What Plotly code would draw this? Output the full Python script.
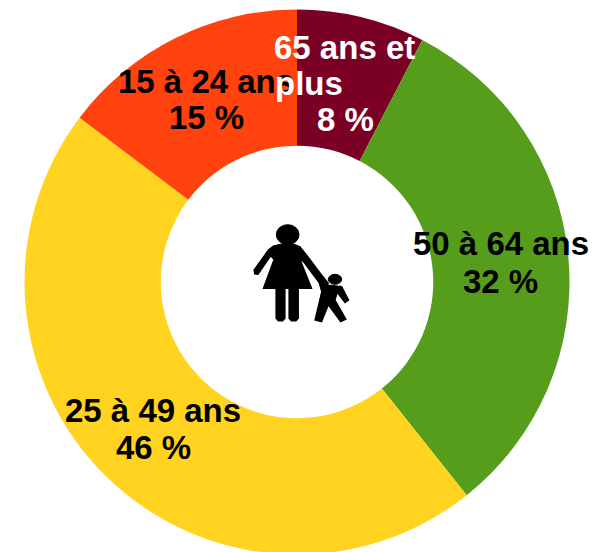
import plotly.graph_objects as go

labels = ["65 ans et plus", "50 à 64 ans", "25 à 49 ans", "15 à 24 ans"]
values = [7.6, 31.7, 46.0, 14.7]
colors = ["#7b0025", "#579d1c", "#ffd320", "#ff420e"]

W, H = 592, 556
OFF = 0


def px(x):
    return (x - OFF) / W


def py(y):
    return 1 - (y - OFF) / H


cx, cy, r = 297, 282, 272.5

fig = go.Figure(go.Pie(
    labels=labels, values=values, hole=0.5, sort=False, direction="clockwise", rotation=0,
    marker=dict(colors=colors, line=dict(width=0)),
    textinfo="none", hoverinfo="label+percent", showlegend=False,
    domain=dict(x=[px(cx - r), px(cx + r)], y=[py(cy + r), py(cy - r)]),
))

# (text, centre x, centre y, colour), drawn in this order
text_lines = [
    ("50 à 64 ans", 500.5, 244, "#000000"),
    ("32 %", 500.5, 281, "#000000"),
    ("25 à 49 ans", 153.5, 410, "#000000"),
    ("46 %", 153.5, 447, "#000000"),
    ("15 à 24 ans", 206, 82, "#000000"),
    ("15 %", 206.5, 117, "#000000"),
    ("65 ans et", 344.5, 47, "#ffffff"),
    ("plus", 309, 84, "#ffffff"),
    ("8 %", 345, 119, "#ffffff"),
]
for t, x, y, c in text_lines:
    fig.add_annotation(text=t, x=px(x), y=py(y), xref="paper", yref="paper",
                       xanchor="center", yanchor="middle", showarrow=False,
                       font=dict(family="Liberation Sans", size=33, color=c, weight="bold"))


# Pictogram, outlined in crop coordinates (3x, origin 250,220)
def icon_path(points):
    pts = [(px(250 + a / 3), py(220 + b / 3)) for a, b in points]
    return "M " + " L ".join(f"{a:.5f},{b:.5f}" for a, b in pts) + " Z"


woman = [(95, 72), (130, 72), (150, 80), (180, 118), (215, 165), (235, 190), (225, 202), (205, 185),
         (160, 125), (150, 118), (185, 205), (145, 205), (145, 295), (138, 303), (124, 303), (117, 295),
         (117, 205), (105, 205), (105, 295), (98, 303), (85, 303), (78, 295), (78, 205), (40, 205),
         (72, 118), (62, 108), (24, 163), (14, 162), (12, 150), (55, 90), (70, 78)]
child = [(205, 180), (235, 195), (275, 200), (296, 240), (285, 248), (262, 218), (255, 240), (288, 298),
         (272, 305), (235, 255), (215, 305), (195, 300), (215, 215)]
for pts in (woman, child):
    fig.add_shape(type="path", path=icon_path(pts), xref="paper", yref="paper",
                  fillcolor="#000000", line=dict(width=1.2, color="#000000"))
for hx, hy, rx, ry in ((113, 44, 34, 30), (255, 178, 20, 15)):
    fig.add_shape(type="circle", xref="paper", yref="paper",
                  x0=px(250 + (hx - rx) / 3), x1=px(250 + (hx + rx) / 3),
                  y0=py(220 + (hy + ry) / 3), y1=py(220 + (hy - ry) / 3),
                  fillcolor="#000000", line=dict(width=1, color="#000000"))

fig.update_layout(width=W, height=H, margin=dict(l=0, r=0, t=0, b=0),
                  paper_bgcolor="white", font=dict(family="Liberation Sans"))
fig.write_html("out.html", default_width=f"{W}px", default_height=f"{H}px",
               config={"displayModeBar": False},
               post_script="document.body.style.margin='0';document.documentElement.style.overflow='hidden';")
